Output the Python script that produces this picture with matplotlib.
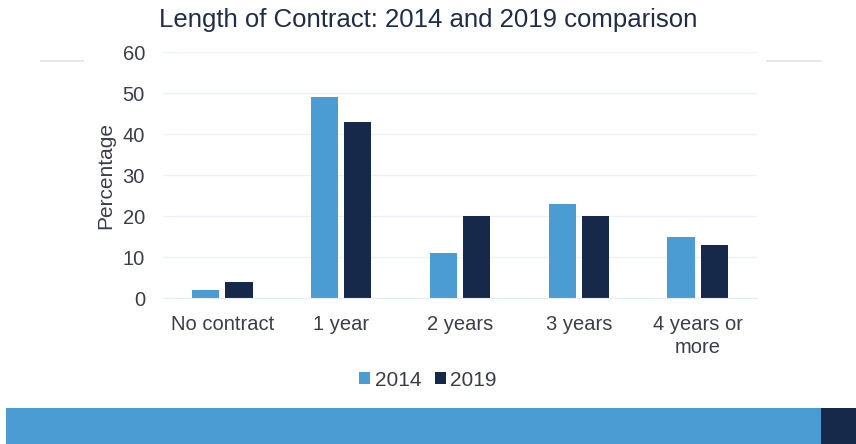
import numpy as np
import matplotlib.pyplot as plt
from matplotlib.patches import Rectangle
from matplotlib.lines import Line2D

# --- Data ---
categories = ["No contract", "1 year", "2 years", "3 years", "4 years or\nmore"]
pct_2014 = [2, 49, 11, 23, 15]
pct_2019 = [4, 43, 20, 20, 13]
y_ticks = [0, 10, 20, 30, 40, 50, 60]

LIGHT = "#4a9cd3"
DARK = "#16294a"
TEXT = "#3b3d4a"

plt.rcParams['font.family'] = ['Liberation Sans', 'DejaVu Sans']

fig = plt.figure(figsize=(8.56, 4.44), dpi=100)
W, H = 856, 444
# plot area in pixels: x 163..757, y 52..298 (from top)
ax = fig.add_axes([163 / W, 1 - 298 / H, (757 - 163) / W, (298 - 52) / H])

x = np.arange(len(categories))
bw = 0.23
gap = 0.05
ax.bar(x - (bw + gap) / 2, pct_2014, width=bw, color=LIGHT, label="2014", zorder=2)
ax.bar(x + (bw + gap) / 2, pct_2019, width=bw, color=DARK, label="2019", zorder=2)

ax.set_xlim(-0.5, len(categories) - 0.5)
ax.set_ylim(0, 60)
ax.set_yticks(y_ticks)
ax.set_xticks(x)
ax.set_xticklabels(categories, fontsize=14.5, color=TEXT, linespacing=1.3)
ax.tick_params(axis='y', labelsize=14.5, colors=TEXT, length=0, pad=13)
ax.tick_params(axis='x', length=0, pad=12)
ax.grid(axis='y', color="#edf2f8", linewidth=1, zorder=0)
for s in ["top", "right", "left"]:
    ax.spines[s].set_visible(False)
ax.spines["bottom"].set_color("#e6edf5")
ax.set_ylabel("Percentage", fontsize=15, color=TEXT)
ax.yaxis.set_label_coords(-0.081, 0.5)

fig.text(0.5, 1 - 20 / H, "Length of Contract: 2014 and 2019 comparison",
         ha='center', va='center', fontsize=18.5, color="#1f2d4a")

fig.legend(loc='center', bbox_to_anchor=(0.5, 1 - 380 / H), ncol=2, frameon=False,
           fontsize=15, handlelength=0.53, handleheight=0.5, handletextpad=0.2,
           columnspacing=0.67, labelcolor=TEXT)

# slide decorations: short grey rules and the bottom banner
fig.add_artist(Line2D([41 / W, 83 / W], [1 - 61 / H] * 2, color="#e2e2e2", lw=1.2))
fig.add_artist(Line2D([767 / W, 821 / W], [1 - 61 / H] * 2, color="#e2e2e2", lw=1.2))
fig.add_artist(Rectangle((6 / W, 0), (821 - 6) / W, 36 / H, transform=fig.transFigure,
                         color=LIGHT, lw=0))
fig.add_artist(Rectangle((821 / W, 0), (W - 821) / W, 36 / H, transform=fig.transFigure,
                         color=DARK, lw=0))

fig.savefig("out.png", dpi=100)
